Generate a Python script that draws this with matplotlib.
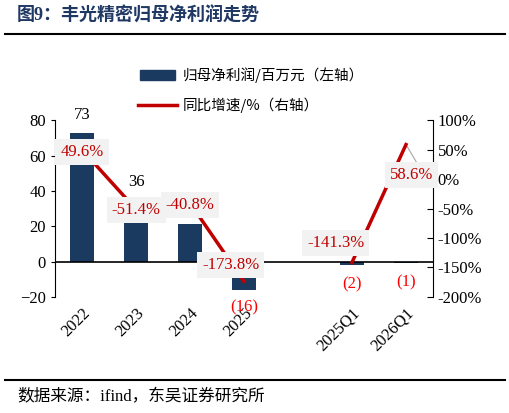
import matplotlib
matplotlib.use("Agg")
import matplotlib.pyplot as plt
import numpy as np

categories = ['2022', '2023', '2024', '2025', '', '2025Q1', '2026Q1']
profit = [73, 22, 21, -16, np.nan, -2, -1]
profit_labels = ['73', '36', '', '(16)', '', '(2)', '(1)']
growth = [49.6, -51.4, -40.8, -173.8, np.nan, -141.3, 58.6]
growth_labels = ['49.6%', '-51.4%', '-40.8%', '-173.8%', '', '-141.3%', '58.6%']

CJK = ['Noto Sans CJK SC', 'DejaVu Sans']
SERIF = ['Liberation Serif', 'Noto Sans CJK SC']
navy = '#1B3A5F'
red = '#C00000'

fig = plt.figure(figsize=(5.1, 4.13), dpi=100)
ax = fig.add_axes([0.108, 0.281, 0.741, 0.428])
ax2 = ax.twinx()
x = np.arange(len(categories))
ax.bar(x, profit, width=0.45, color=navy, zorder=2)
ax.axhline(0, color='black', lw=1.2, zorder=3)
ax.set_ylim(-20, 80)
ax.set_yticks([-20, 0, 20, 40, 60, 80])
ax.set_xlim(-0.5, 6.5)
ax.set_xticks(x)
ax.set_xticklabels(categories, rotation=45, ha='right', rotation_mode='anchor', fontfamily=SERIF, fontsize=12)
ax.tick_params(axis='x', length=0, pad=6)
ax.tick_params(axis='y', labelsize=12, direction='out', length=3)
for t in ax.get_yticklabels():
    t.set_fontfamily(SERIF)
for s in ['top', 'bottom', 'right']:
    ax.spines[s].set_visible(False)
ax2.spines['top'].set_visible(False)
ax2.spines['left'].set_visible(False)
ax2.spines['bottom'].set_visible(False)

ax2.plot(x, growth, color=red, lw=2.5, zorder=4)
ax2.set_ylim(-200, 100)
ax2.set_yticks([-200, -150, -100, -50, 0, 50, 100])
ax2.set_yticklabels([f'{v}%' for v in [-200, -150, -100, -50, 0, 50, 100]], fontfamily=SERIF, fontsize=12)
ax2.tick_params(axis='y', direction='in', length=4)

# bar labels
bl_pos = [82.8, 45, None, -26, None, -13, -12]
for i, (lab, yy) in enumerate(zip(profit_labels, bl_pos)):
    if lab:
        c = 'black' if not lab.startswith('(') else '#FF0000'
        ax.text(x[i], yy, lab, ha='center', va='center', fontsize=12, fontfamily=SERIF, color=c, zorder=6)

# growth labels
gl_x = [0, 1, 2, 2.75, None, 4.7, 6.1]
gl_y = [45.8, -52.5, -44, -145.8, None, -108.5, 6.8]
ax2.plot([6.0, 6.25], [58.6, 20], color='#A6A6A6', lw=0.8, zorder=3)
for i, lab in enumerate(growth_labels):
    if lab:
        ax2.text(gl_x[i], gl_y[i], lab, ha='center', va='center', fontsize=12, fontfamily=SERIF, color=red,
                 bbox=dict(boxstyle='square,pad=0.3', fc='#F2F2F2', ec='none'), zorder=7)

# legend
fig.patches.append(plt.Rectangle((140/510, 1-80/413), 35/510, 10/413, color=navy, transform=fig.transFigure))
fig.text(183/510, 1-75/413, '归母净利润/百万元（左轴）', fontfamily=CJK, fontsize=10.5, va='center')
fig.lines.append(plt.Line2D([138/510, 177/510], [1-105/413]*2, color=red, lw=2.5, transform=fig.transFigure))
fig.text(183/510, 1-105/413, '同比增速/%（右轴）', fontfamily=CJK, fontsize=10.5, va='center')

# title and source
fig.text(17/510, 1-16/413, '图9：丰光精密归母净利润走势', fontfamily=SERIF, fontsize=13, fontweight='bold', color='#1F3864', va='center')
fig.lines.append(plt.Line2D([5/510, 505/510], [1-34/413]*2, color='black', lw=1.5, transform=fig.transFigure))
fig.lines.append(plt.Line2D([5/510, 505/510], [1-380/413]*2, color='black', lw=1.5, transform=fig.transFigure))
fig.text(17/510, 1-397/413, '数据来源：ifind，东吴证券研究所', fontfamily=SERIF, fontsize=12, va='center')

fig.savefig('out.png', dpi=100)
